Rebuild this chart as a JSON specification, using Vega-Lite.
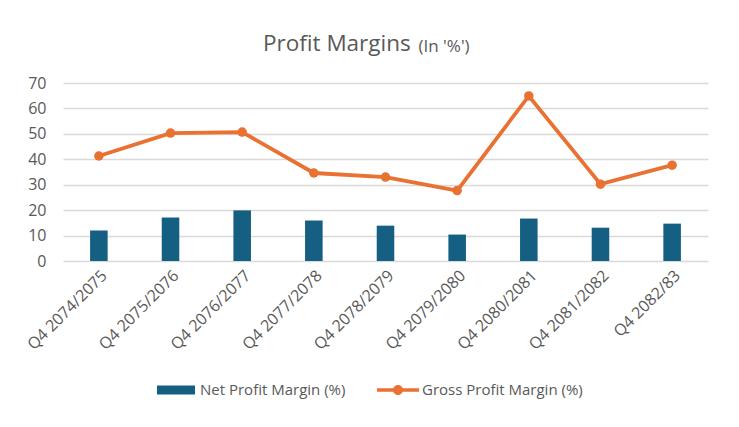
{
  "$schema": "https://vega.github.io/schema/vega-lite/v6.json",
  "autosize": {"type": "none"},
  "width": 645,
  "height": 178,
  "padding": {"left": 63, "top": 83, "right": 31, "bottom": 166},
  "background": "white",
  "title": {
    "text": "Profit Margins",
    "anchor": "start",
    "frame": "group",
    "dx": 200,
    "offset": -18,
    "fontSize": 22.5,
    "fontWeight": "normal",
    "color": "#595959"
  },
  "data": {
    "values": [
      {"period": "Q4 2074/2075", "net": 12.0, "gross": 41.3},
      {"period": "Q4 2075/2076", "net": 17.1, "gross": 50.3},
      {"period": "Q4 2076/2077", "net": 19.9, "gross": 50.7},
      {"period": "Q4 2077/2078", "net": 15.9, "gross": 34.6},
      {"period": "Q4 2078/2079", "net": 13.9, "gross": 33.0},
      {"period": "Q4 2079/2080", "net": 10.4, "gross": 27.7},
      {"period": "Q4 2080/2081", "net": 16.7, "gross": 64.9},
      {"period": "Q4 2081/2082", "net": 13.1, "gross": 30.2},
      {"period": "Q4 2082/83", "net": 14.7, "gross": 37.7}
    ]
  },
  "encoding": {
    "x": {
      "field": "period",
      "type": "nominal",
      "sort": null,
      "title": null,
      "scale": {"paddingInner": 0.755, "paddingOuter": 0.378},
      "axis": {
        "labelAngle": -45,
        "labelFontSize": 16,
        "labelColor": "#595959",
        "labelPadding": 6,
        "domain": false,
        "ticks": false,
        "grid": false
      }
    }
  },
  "layer": [
    {
      "mark": {"type": "bar"},
      "encoding": {
        "y": {
          "field": "net",
          "type": "quantitative",
          "title": "(In '%')",
          "scale": {"domain": [0, 70]},
          "axis": {
            "values": [0, 10, 20, 30, 40, 50, 60, 70],
            "labelFontSize": 16,
            "labelColor": "#595959",
            "labelPadding": 17,
            "labelOverlap": false,
            "domain": false,
            "ticks": false,
            "gridColor": "#d9d9d9",
            "gridWidth": 1.3,
            "titleAngle": 0,
            "titleAlign": "left",
            "titleBaseline": "alphabetic",
            "titleX": 355,
            "titleY": -32,
            "titleFontSize": 17,
            "titleFontWeight": "normal",
            "titleColor": "#595959"
          }
        },
        "color": {
          "datum": "Net Profit Margin (%)",
          "legend": {
            "encode": {
              "symbols": {
                "update": {
                  "shape": {"signal": "datum.value === 'Net Profit Margin (%)' ? 'M-0.95,-0.225H0.95V0.225H-0.95Z' : 'M-1.05,-0.0875H1.05V0.0875H-1.05Z M0.25,0 A0.25,0.25 0 1,1 -0.25,0 A0.25,0.25 0 1,1 0.25,0 Z'"},
                  "strokeWidth": {"value": 0}
                }
              }
            }
          }
        }
      }
    },
    {
      "mark": {
        "type": "line",
        "strokeWidth": 3.8,
        "point": {"size": 90, "filled": true, "opacity": 1}
      },
      "encoding": {
        "y": {
          "field": "gross",
          "type": "quantitative",
          "title": "(In '%')",
          "axis": {
            "values": [0, 10, 20, 30, 40, 50, 60, 70],
            "labelFontSize": 16,
            "labelColor": "#595959",
            "labelPadding": 17,
            "labelOverlap": false,
            "domain": false,
            "ticks": false,
            "gridColor": "#d9d9d9",
            "gridWidth": 1.3,
            "titleAngle": 0,
            "titleAlign": "left",
            "titleBaseline": "alphabetic",
            "titleX": 355,
            "titleY": -32,
            "titleFontSize": 17,
            "titleFontWeight": "normal",
            "titleColor": "#595959"
          }
        },
        "color": {"datum": "Gross Profit Margin (%)"}
      }
    }
  ],
  "resolve": {"scale": {"y": "shared"}},
  "config": {
    "font": "Open Sans",
    "view": {"stroke": null},
    "range": {"category": ["#156082", "#E97132"]},
    "legend": {
      "orient": "none",
      "legendX": 93,
      "legendY": 287,
      "direction": "horizontal",
      "title": null,
      "labelFontSize": 15,
      "labelLimit": 300,
      "labelColor": "#595959",
      "labelOffset": 4,
      "columnPadding": 31,
      "symbolSize": 1600,
      "symbolStrokeWidth": 0,
      "symbolOpacity": 1
    }
  }
}
